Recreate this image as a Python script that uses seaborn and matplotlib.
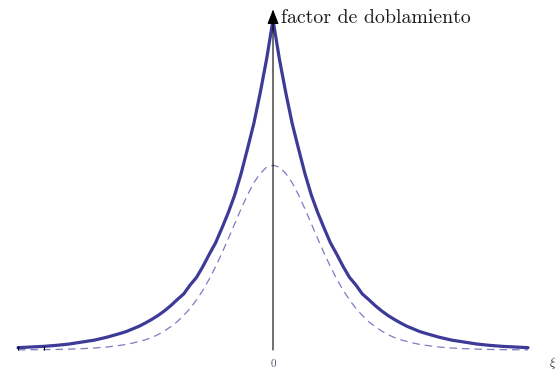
import matplotlib
matplotlib.use("Agg")
import matplotlib.pyplot as plt
import seaborn as sns
import pandas as pd

# abscissa samples (xi) shared by both curves
xi = [-5.0, -4.75, -4.5, -4.25, -4.0, -3.75, -3.5, -3.25,
      -3.0, -2.875, -2.75, -2.625, -2.5, -2.375, -2.25, -2.125,
      -2.0, -1.875, -1.75, -1.625, -1.5, -1.375, -1.25, -1.125,
      -1.0, -0.875, -0.75, -0.625, -0.5, -0.375, -0.25, -0.125,
      0.0,
      0.125, 0.25, 0.375, 0.5, 0.625, 0.75, 0.875, 1.0,
      1.125, 1.25, 1.375, 1.5, 1.625, 1.75, 1.875, 2.0,
      2.125, 2.25, 2.375, 2.5, 2.625, 2.75, 2.875, 3.0,
      3.25, 3.5, 3.75, 4.0, 4.25, 4.5, 4.75, 5.0]

# bending factor, sharp-peaked profile (solid)
factor_solid = [0.007, 0.009, 0.011, 0.014, 0.018, 0.024, 0.030, 0.039,
                0.050, 0.056, 0.064, 0.072, 0.082, 0.093, 0.105, 0.119,
                0.135, 0.153, 0.170, 0.197, 0.220, 0.253, 0.290, 0.325,
                0.370, 0.417, 0.470, 0.535, 0.610, 0.687, 0.780, 0.882,
                1.000,
                0.882, 0.780, 0.687, 0.610, 0.535, 0.470, 0.417, 0.370,
                0.325, 0.290, 0.253, 0.220, 0.197, 0.170, 0.153, 0.135,
                0.119, 0.105, 0.093, 0.082, 0.072, 0.064, 0.056, 0.050,
                0.039, 0.030, 0.024, 0.018, 0.014, 0.011, 0.009, 0.007]

# bending factor, smooth profile (dashed)
factor_dashed = [0.0005, 0.0007, 0.0011, 0.0017, 0.0026, 0.004, 0.006, 0.009,
                 0.014, 0.017, 0.021, 0.026, 0.031, 0.038, 0.047, 0.058,
                 0.071, 0.086, 0.105, 0.126, 0.152, 0.181, 0.215, 0.253,
                 0.294, 0.338, 0.383, 0.428, 0.470, 0.507, 0.535, 0.554,
                 0.560,
                 0.554, 0.535, 0.507, 0.470, 0.428, 0.383, 0.338, 0.294,
                 0.253, 0.215, 0.181, 0.152, 0.126, 0.105, 0.086, 0.071,
                 0.058, 0.047, 0.038, 0.031, 0.026, 0.021, 0.017, 0.014,
                 0.009, 0.006, 0.004, 0.0026, 0.0017, 0.0011, 0.0007, 0.0005]

df = pd.DataFrame({"xi": xi, "solid": factor_solid, "dashed": factor_dashed})

sns.set_style("white")
plt.rcParams["mathtext.fontset"] = "cm"

fig = plt.figure(figsize=(5.58, 3.72), dpi=100)
ax = fig.add_axes([0, 0, 1, 1])

sns.lineplot(data=df, x="xi", y="dashed", ax=ax, color="#7d7bc4",
             linewidth=0.9, linestyle=(0, (6, 4)))
sns.lineplot(data=df, x="xi", y="solid", ax=ax, color="#3d3a98",
             linewidth=2.3)

ax.set_xlim(-5.353, 5.588)
ax.set_ylim(-0.0667, 1.0606)
ax.axis("off")

# coordinate axes with arrow heads
ax.annotate("", xy=(5.6, 0), xytext=(-5.16, 0),
            arrowprops=dict(arrowstyle="-|>,head_length=0.9,head_width=0.35",
                            color="black", lw=0.8, shrinkA=0, shrinkB=0))
ax.annotate("", xy=(0, 1.032), xytext=(0, 0),
            arrowprops=dict(arrowstyle="-|>,head_length=0.9,head_width=0.35",
                            color="black", lw=0.8, shrinkA=0, shrinkB=0))
ax.vlines([-5.0, -4.5], 0, 0.012, color="black", lw=0.8)

ax.text(0.16, 0.99, "factor de doblamiento", family="cmr10", fontsize=14.3,
        ha="left", va="baseline", color="#1a1a1a")
ax.text(0, -0.028, "0", family="cmr10", fontsize=8, ha="center", va="top",
        color="#4a5570")
ax.text(5.42, -0.014, r"$\xi$", fontsize=9, ha="left", va="top",
        color="#333333")

fig.savefig("out.png", dpi=100)
